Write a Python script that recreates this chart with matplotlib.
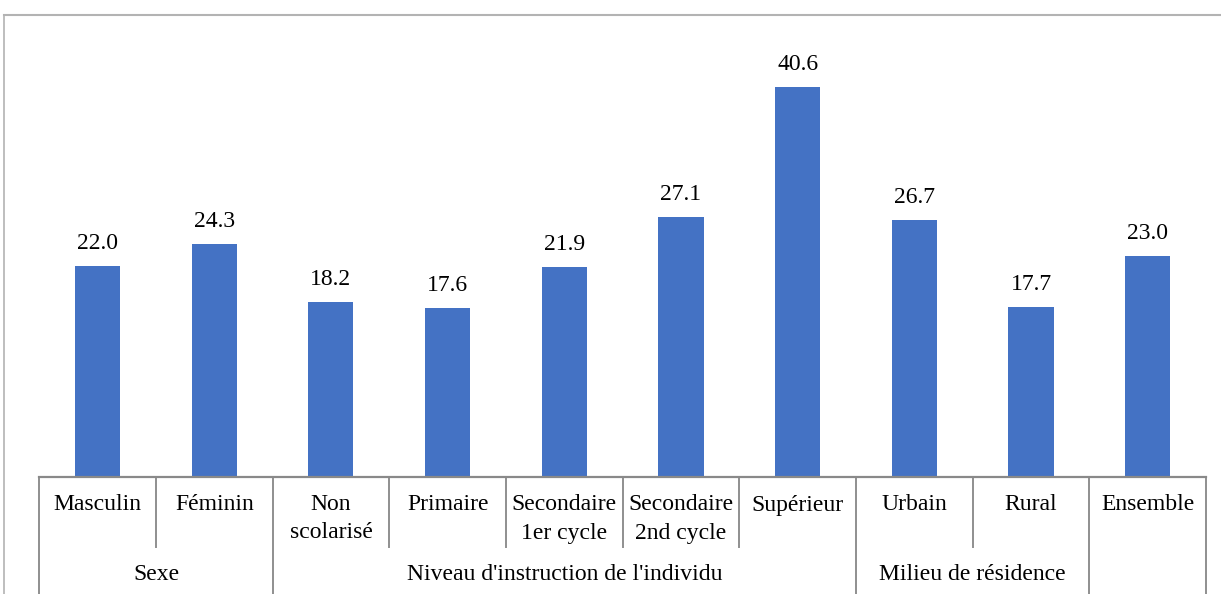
import matplotlib.pyplot as plt
from matplotlib.lines import Line2D

# Data
categories = ["Masculin", "Féminin", "Non\nscolarisé", "Primaire", "Secondaire\n1er cycle",
              "Secondaire\n2nd cycle", "Supérieur", "Urbain", "Rural", "Ensemble"]
values = [22.0, 24.3, 18.2, 17.6, 21.9, 27.1, 40.6, 26.7, 17.7, 23.0]
groups = ["Sexe", "Niveau d'instruction de l'individu", "Milieu de résidence", ""]
group_sizes = [2, 5, 2, 1]

W, H = 1221, 594
plt.rcParams['font.family'] = ['Liberation Serif', 'DejaVu Serif']
fig = plt.figure(figsize=(W / 100, H / 100), dpi=100)

# axes placed in pixel terms
x0, x1 = 39.3, 1206
y_base = 477.3
ymax = 45
px_per_unit = 9.62
ax_h = ymax * px_per_unit
ax = fig.add_axes([x0 / W, (H - y_base) / H, (x1 - x0) / W, ax_h / H])

def ypx(p):
    # pixel row (from top of figure) -> axes fraction
    return (y_base - p) / ax_h

x = list(range(len(categories)))
bars = ax.bar(x, values, width=0.386, color='#4472C4', zorder=2)
for b, v in zip(bars, values):
    ax.annotate(f"{v:.1f}", (b.get_x() + b.get_width() / 2, v), xytext=(0, 17),
                textcoords='offset pixels', ha='center', va='baseline', fontsize=17)

ax.set_xlim(-0.5, len(categories) - 0.5)
ax.set_ylim(0, ymax)
ax.set_xticks([])
ax.set_yticks([])
for s in ['top', 'right', 'left']:
    ax.spines[s].set_visible(False)
ax.spines['bottom'].set_color('#898989')
ax.spines['bottom'].set_linewidth(1.6)

trans = ax.get_xaxis_transform()
grey = '#8f8f8f'

# category labels
for i, lab in enumerate(categories):
    for k, line in enumerate(lab.split("\n")):
        ax.text(i, ypx(505 + 28 * k), line, transform=trans, ha='center', va='center', fontsize=17)

# group boundaries
bounds = [0]
for n in group_sizes:
    bounds.append(bounds[-1] + n)
outer = set(bounds)
for i in range(len(categories) + 1):
    bottom = 594 if i in outer else 547
    ax.add_line(Line2D([i - 0.5, i - 0.5], [ypx(y_base), ypx(bottom)], transform=trans,
                       color=grey, lw=1.4, clip_on=False))

# group labels
for g, a, b in zip(groups, bounds[:-1], bounds[1:]):
    if g:
        ax.text((a + b - 1) / 2, ypx(575), g, transform=trans, ha='center', va='center', fontsize=17)

# chart area frame (partly outside the image)
fig.add_artist(Line2D([4 / W, 1.0], [1 - 15 / H, 1 - 15 / H], color='#b3b3b3', lw=1.5))
fig.add_artist(Line2D([4 / W, 4 / W], [0, 1 - 15 / H], color='#b3b3b3', lw=1.2))

fig.savefig('out.png', dpi=100)
